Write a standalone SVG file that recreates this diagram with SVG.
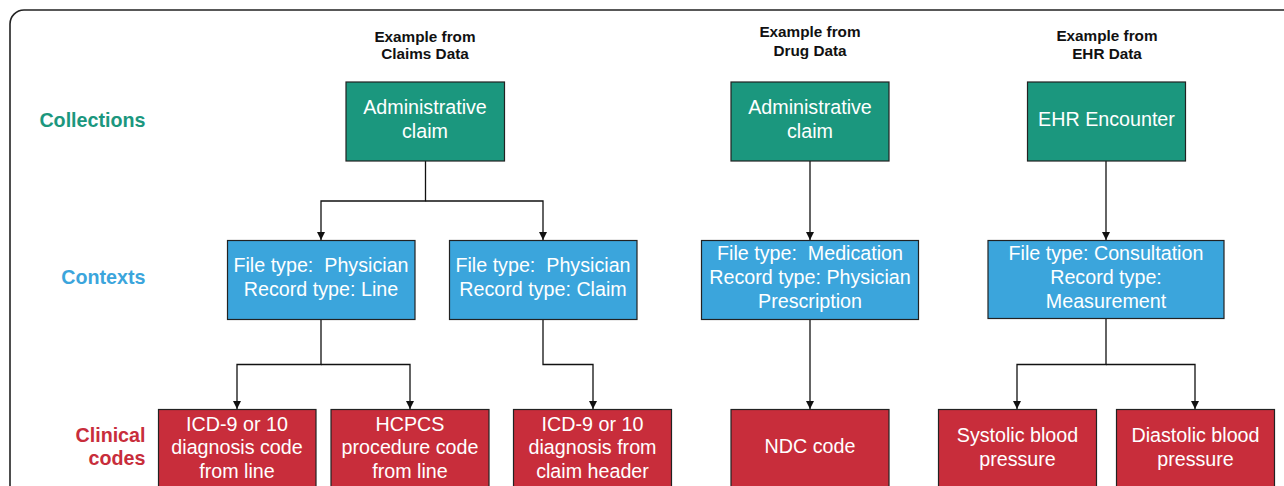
<svg xmlns="http://www.w3.org/2000/svg" width="1284" height="486" viewBox="0 0 1284 486">
<defs>
<marker id="arr" viewBox="0 0 8 10" refX="8" refY="5" markerWidth="8" markerHeight="10" markerUnits="userSpaceOnUse" orient="auto">
<path d="M0,1 L8,5 L0,9 Z" fill="#111"/>
</marker>
<style>
.frame{fill:none;stroke:#222;stroke-width:1.6}
.hdr{font-family:"Liberation Sans",Arial,sans-serif;font-weight:bold;font-size:15.3px;fill:#111;text-anchor:middle}
.lbl{font-family:"Liberation Sans",Arial,sans-serif;font-weight:bold;font-size:19.7px;text-anchor:end}
.box{stroke:#222;stroke-width:1.2}
.g{fill:#1b977e}
.b{fill:#3ba5dc}
.r{fill:#c82d3b}
.t{font-family:"Liberation Sans",Arial,sans-serif;font-size:19.7px;fill:#fff;text-anchor:middle}
.c{fill:none;stroke:#111;stroke-width:1.3}
</style>
</defs>
<rect class="frame" x="10" y="10" width="1320" height="520" rx="14"/>

<g id="headers">
<text class="hdr" x="425" y="41.5">Example from</text>
<text class="hdr" x="425" y="59.3">Claims Data</text>
<text class="hdr" x="810" y="37.3">Example from</text>
<text class="hdr" x="810" y="55.7">Drug Data</text>
<text class="hdr" x="1107" y="41">Example from</text>
<text class="hdr" x="1107" y="59">EHR Data</text>
</g>

<g id="row-labels">
<text class="lbl" x="145.5" y="126.5" fill="#1b977e">Collections</text>
<text class="lbl" x="145.5" y="283.5" fill="#3ba5dc">Contexts</text>
<text class="lbl" x="145.5" y="441.7" fill="#c82d3b">Clinical</text>
<text class="lbl" x="145.5" y="464.5" fill="#c82d3b">codes</text>
</g>

<g id="connectors">
<path class="c" d="M425.5,161 V201 H321 V240" marker-end="url(#arr)"/>
<path class="c" d="M425.5,201 H543 V240" marker-end="url(#arr)"/>
<path class="c" d="M810,161 V240" marker-end="url(#arr)"/>
<path class="c" d="M1106,161 V240" marker-end="url(#arr)"/>
<path class="c" d="M321,319 V364.5 H237 V409" marker-end="url(#arr)"/>
<path class="c" d="M321,364.5 H410 V409" marker-end="url(#arr)"/>
<path class="c" d="M543,319 V364.5 H593 V409" marker-end="url(#arr)"/>
<path class="c" d="M810,319 V409" marker-end="url(#arr)"/>
<path class="c" d="M1106,319 V364.5 H1017 V409" marker-end="url(#arr)"/>
<path class="c" d="M1106,364.5 H1195 V409" marker-end="url(#arr)"/>
</g>

<g id="col-claims">
<rect class="box g" x="346" y="82" width="158.5" height="79"/>
<text class="t" x="425" y="114">Administrative</text>
<text class="t" x="425" y="137.5">claim</text>
</g>
<g id="col-drug">
<rect class="box g" x="731" y="82" width="158" height="79"/>
<text class="t" x="810" y="114">Administrative</text>
<text class="t" x="810" y="137.5">claim</text>
</g>
<g id="col-ehr">
<rect class="box g" x="1027.5" y="82" width="158" height="79"/>
<text class="t" x="1106.5" y="125.7">EHR Encounter</text>
</g>

<g id="ctx-line">
<rect class="box b" x="227.5" y="240.5" width="187.5" height="79"/>
<text class="t" x="321" y="271.7" xml:space="preserve">File type:  Physician</text>
<text class="t" x="321" y="295.7">Record type: Line</text>
</g>
<g id="ctx-claim">
<rect class="box b" x="449.5" y="240.5" width="187.5" height="79"/>
<text class="t" x="543" y="271.7" xml:space="preserve">File type:  Physician</text>
<text class="t" x="543" y="295.7">Record type: Claim</text>
</g>
<g id="ctx-drug">
<rect class="box b" x="701.5" y="240.5" width="217" height="79"/>
<text class="t" x="810" y="259.7" xml:space="preserve">File type:  Medication</text>
<text class="t" x="810" y="283.7">Record type: Physician</text>
<text class="t" x="810" y="307.7">Prescription</text>
</g>
<g id="ctx-ehr">
<rect class="box b" x="988" y="240.5" width="236" height="78"/>
<text class="t" x="1106" y="259.7">File type: Consultation</text>
<text class="t" x="1106" y="283.7">Record type:</text>
<text class="t" x="1106" y="307.7">Measurement</text>
</g>

<g id="code-icd-line">
<rect class="box r" x="158.5" y="409.5" width="157.5" height="79"/>
<text class="t" x="237" y="430.5">ICD-9 or 10</text>
<text class="t" x="237" y="454">diagnosis code</text>
<text class="t" x="237" y="477.5">from line</text>
</g>
<g id="code-hcpcs">
<rect class="box r" x="331" y="409.5" width="158" height="79"/>
<text class="t" x="410" y="430.5">HCPCS</text>
<text class="t" x="410" y="454">procedure code</text>
<text class="t" x="410" y="477.5">from line</text>
</g>
<g id="code-icd-header">
<rect class="box r" x="513.5" y="409.5" width="158" height="79"/>
<text class="t" x="592.5" y="430.5">ICD-9 or 10</text>
<text class="t" x="592.5" y="454">diagnosis from</text>
<text class="t" x="592.5" y="477.5">claim header</text>
</g>
<g id="code-ndc">
<rect class="box r" x="731" y="409.5" width="158" height="79"/>
<text class="t" x="810" y="453">NDC code</text>
</g>
<g id="code-systolic">
<rect class="box r" x="938.5" y="409.5" width="158" height="79"/>
<text class="t" x="1017.5" y="442">Systolic blood</text>
<text class="t" x="1017.5" y="465.5">pressure</text>
</g>
<g id="code-diastolic">
<rect class="box r" x="1116.5" y="409.5" width="158" height="79"/>
<text class="t" x="1195.5" y="442">Diastolic blood</text>
<text class="t" x="1195.5" y="465.5">pressure</text>
</g>
</svg>
